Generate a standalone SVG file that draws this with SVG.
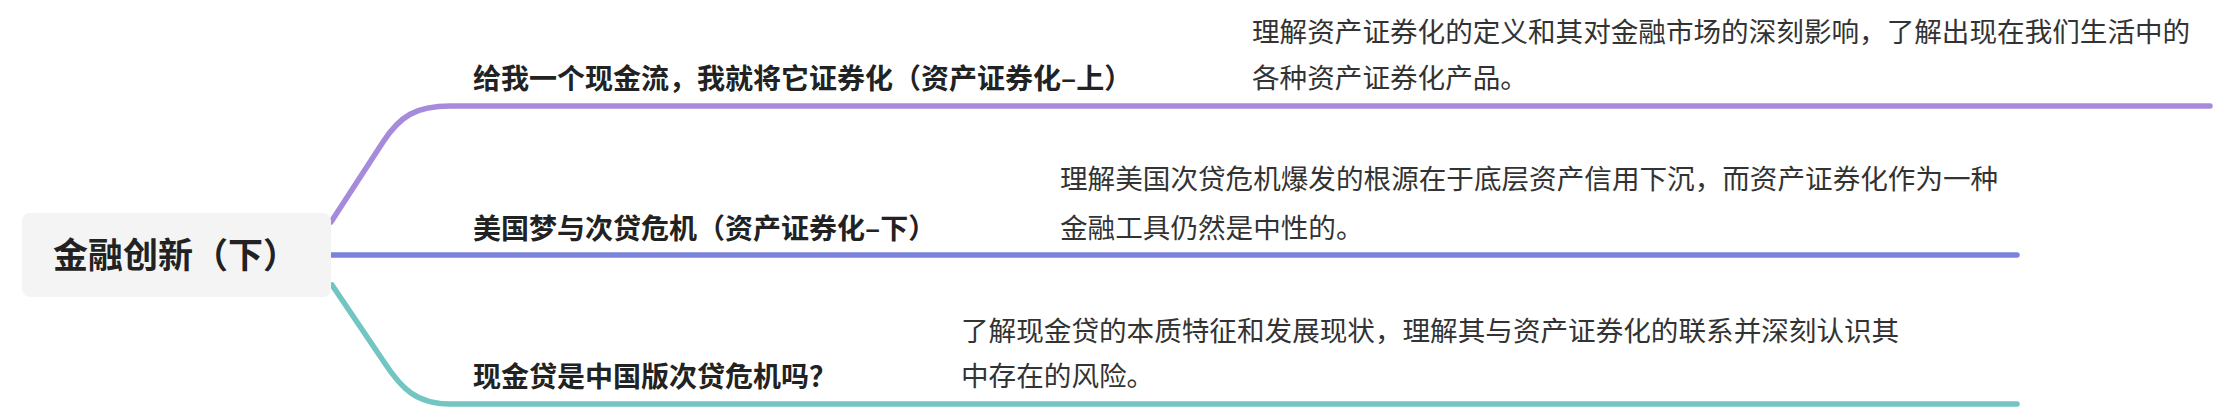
<svg xmlns="http://www.w3.org/2000/svg" width="2230" height="408" viewBox="0 0 2230 408">
<style>
.t{font-family:"Noto Sans CJK SC","Noto Sans",sans-serif;font-weight:bold;font-size:28px;fill:#222}
.d{font-family:"Noto Sans CJK SC","Noto Sans",sans-serif;font-size:27.6px;fill:#333}
.r{font-family:"Noto Sans CJK SC","Noto Sans",sans-serif;font-weight:bold;font-size:35px;fill:#222}
.c{fill:none;stroke-width:5.5;stroke-linecap:round;stroke-linejoin:round}
</style>
<rect width="2230" height="408" fill="#ffffff"/>
<g id="connectors">
<path class="c" stroke="#a68bdc" d="M331,222 L383,142 C400,116 416,106 450,106 L2210,106"/>
<path class="c" stroke="#7b84da" d="M331,255 L2017,255"/>
<path class="c" stroke="#72c5c2" d="M332,285 L384,362 C401,388 416,404 450,404 L2017,404"/>
</g>
<g id="root">
<rect x="22" y="213" width="309" height="84" rx="8" fill="#f4f4f4"/>
<text class="r" x="53" y="268">金融创新（下）</text>
</g>
<g id="node1">
<text class="t" x="473" y="89">给我一个现金流，我就将它证券化（资产证券化–上）</text>
<text class="d" x="1252" y="41.5">理解资产证券化的定义和其对金融市场的深刻影响，了解出现在我们生活中的</text>
<text class="d" x="1252" y="88">各种资产证券化产品。</text>
</g>
<g id="node2">
<text class="t" x="473" y="238.5">美国梦与次贷危机（资产证券化–下）</text>
<text class="d" x="1060" y="188.5">理解美国次贷危机爆发的根源在于底层资产信用下沉，而资产证券化作为一种</text>
<text class="d" x="1060" y="237.5">金融工具仍然是中性的。</text>
</g>
<g id="node3">
<text class="t" x="473" y="387">现金贷是中国版次贷危机吗？</text>
<text class="d" x="961" y="340.5">了解现金贷的本质特征和发展现状，理解其与资产证券化的联系并深刻认识其</text>
<text class="d" x="961" y="385.5">中存在的风险。</text>
</g>
</svg>
